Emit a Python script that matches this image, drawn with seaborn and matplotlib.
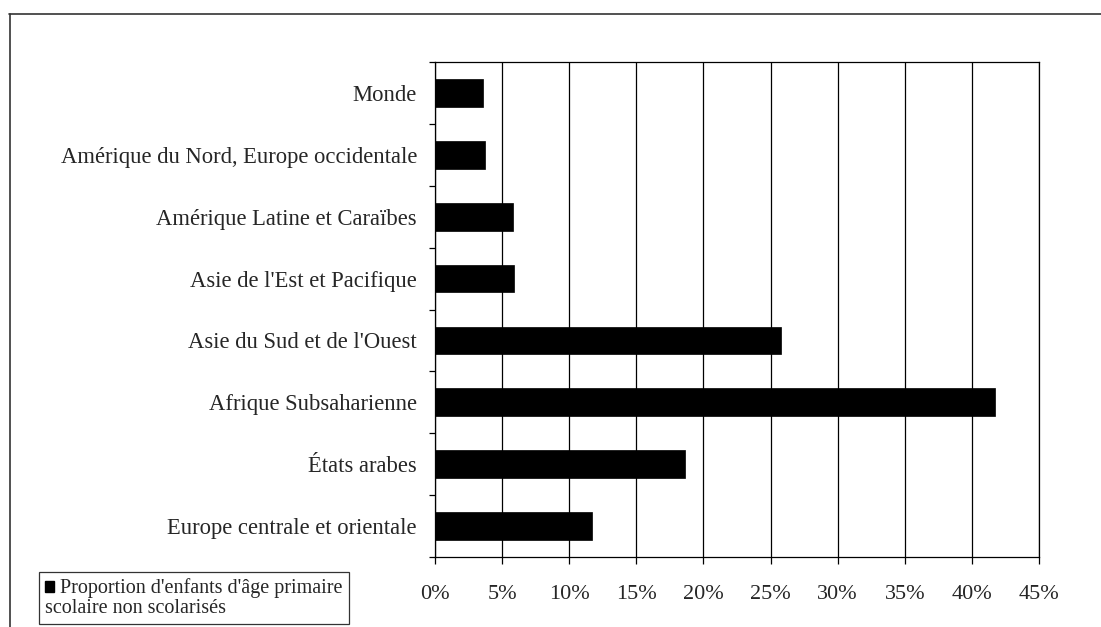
import matplotlib
matplotlib.use("Agg")
import matplotlib.pyplot as plt
import seaborn as sns
import pandas as pd
from matplotlib.lines import Line2D
from matplotlib.patches import Patch, Rectangle
from matplotlib.legend_handler import HandlerPatch
from matplotlib.ticker import FixedLocator, FuncFormatter

# ---- data ----
categories = [
    "Monde",
    "Amérique du Nord, Europe occidentale",
    "Amérique Latine et Caraïbes",
    "Asie de l'Est et Pacifique",
    "Asie du Sud et de l'Ouest",
    "Afrique Subsaharienne",
    "États arabes",
    "Europe centrale et orientale",
]
values = [3.6, 3.7, 5.8, 5.9, 25.8, 41.7, 18.6, 11.7]
series_label_line1 = "Proportion d'enfants d'âge primaire"
series_label_line2 = "scolaire non scolarisés"
xticks = [0, 5, 10, 15, 20, 25, 30, 35, 40, 45]

df = pd.DataFrame({"region": categories, "value": values})

sns.set_style("white")
plt.rcParams["font.family"] = ["Liberation Serif", "DejaVu Serif"]

fig = plt.figure(figsize=(11.01, 6.27), dpi=100)
ax = fig.add_axes([435 / 1101, 1 - 557 / 627, (1039 - 435) / 1101, (557 - 62) / 627])

sns.barplot(data=df, x="value", y="region", order=categories, color="black",
            width=0.45, ax=ax, saturation=1, edgecolor="black", linewidth=0.5, zorder=3)

ax.set_xlim(0, 45)
ax.set_ylim(len(categories) - 0.5, -0.5)
ax.set_xlabel("")
ax.set_ylabel("")

ax.xaxis.set_major_locator(FixedLocator(xticks))
ax.xaxis.set_major_formatter(FuncFormatter(lambda v, p: f"{int(round(v))}%"))
ax.grid(axis="x", color="black", linewidth=0.9, zorder=1)
ax.grid(axis="y", visible=False)
ax.set_axisbelow(True)

ax.tick_params(axis="x", which="major", direction="out", length=5, width=0.9,
               color="black", labelsize=16, pad=15.5, bottom=True)
ax.tick_params(axis="y", which="major", length=0, labelsize=16.3, pad=13)
ax.yaxis.set_minor_locator(FixedLocator([i - 0.5 for i in range(len(categories) + 1)]))
ax.tick_params(axis="y", which="minor", direction="out", length=4, width=0.9,
               color="black", left=True)

for s in ax.spines.values():
    s.set_visible(True)
    s.set_color("black")
    s.set_linewidth(0.9)

# legend: square key sits on the first text line, second line wraps under the key
LEG_FS = 14.5
LINESP = 1.05


def top_square(legend, orig_handle, xdescent, ydescent, width, height, fontsize):
    side = fontsize * 0.55
    line_h = fontsize * 1.15 * LINESP
    cy = -ydescent + height / 2 + line_h / 2
    return Rectangle((-xdescent, cy - side / 2 - 0.5), side * 0.85, side)


handle = Patch(facecolor="black", edgecolor="black")
label = "   " + series_label_line1 + "\n" + series_label_line2
leg = fig.legend([handle], [label], loc="upper left",
                 bbox_to_anchor=(39 / 1101, 1 - 572 / 627),
                 frameon=True, fancybox=False, fontsize=LEG_FS,
                 handlelength=0, handleheight=0.8, handletextpad=0,
                 borderpad=0.3, borderaxespad=0,
                 handler_map={Patch: HandlerPatch(patch_func=top_square)})
leg.get_frame().set_edgecolor("black")
leg.get_frame().set_linewidth(0.9)
for t in leg.get_texts():
    t.set_linespacing(LINESP)

# outer frame lines
top_y = 1 - 14 / 627
fig.add_artist(Line2D([9 / 1101, 1], [top_y, top_y], transform=fig.transFigure,
                      color="#333333", linewidth=1.2))
fig.add_artist(Line2D([10 / 1101, 10 / 1101], [0, top_y], transform=fig.transFigure,
                      color="#333333", linewidth=1.2))

fig.savefig("out.png", dpi=100)
